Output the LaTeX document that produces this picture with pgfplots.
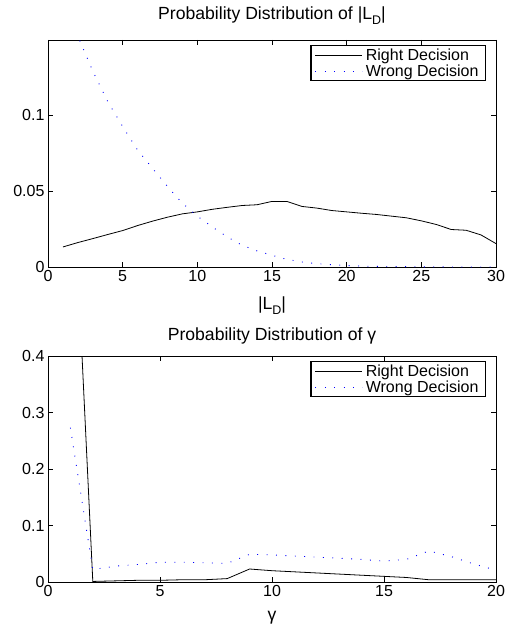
\documentclass[border=0pt]{standalone}
\usepackage{pgfplots}
\pgfplotsset{compat=1.18}
\usepackage{fontspec}
\setmainfont{Liberation Sans}

\pgfplotsset{
  mlab/.style={
    scale only axis,
    width=448pt,
    axis line style={line width=0.8pt},
    tick align=inside,
    major tick length=5pt,
    every tick/.style={black, line width=0.6pt},
    tick label style={font=\fontsize{16}{19}\selectfont},
    scaled ticks=false,
    title style={font=\fontsize{17.6}{20}\selectfont, at={(0.5,1)}, anchor=base},
    xlabel style={font=\fontsize{17.6}{20}\selectfont, at={(0.5,0)}, anchor=base},
    legend style={at={(0.978,0.978)}, anchor=north east, draw=black,
      line width=1.3pt, inner xsep=4pt, inner ysep=1.5pt,
      nodes={inner xsep=3pt, inner ysep=1.5pt, font=\fontsize{16}{19}\selectfont}},
    legend cell align=left,
    legend image code/.code={\draw[#1] (0pt,0pt) -- (47pt,0pt);},
  },
  right/.style={black, line width=0.8pt},
  wrong/.style={blue, line width=0.9pt, dash pattern=on 0.9pt off 8.5pt},
}
\newcommand{\LD}{|L\raisebox{-5pt}{\fontsize{12.5}{13}\selectfont D}|}

\begin{document}
\begin{tikzpicture}
\begin{axis}[mlab,
  at={(48pt,-40pt)}, anchor=north west,
  height=227pt,
  xmin=0, xmax=30, ymin=0, ymax=0.1495,
  xtick={0,5,10,15,20,25,30}, xticklabels={0,5,10,15,20,25,30},
  ytick={0,0.05,0.1}, yticklabels={0,0.05,0.1},
  title={Probability Distribution of \LD},
  title style={yshift=14pt},
  xlabel={\LD},
  xlabel style={yshift=-42pt},
]
\addplot[right] coordinates {
(1,0.0132) (2,0.0161) (3,0.0187) (4,0.0214) (5,0.0240) (6,0.0273)
(7,0.0302) (8,0.0328) (9,0.0350) (10,0.0363) (11,0.0380) (12,0.0393)
(13,0.0405) (14,0.0410) (15,0.0432) (16,0.0432) (17,0.0399) (18,0.0388)
(19,0.0372) (20,0.0363) (21,0.0354) (22,0.0346) (23,0.0335) (24,0.0324)
(25,0.0304) (26,0.0280) (27,0.0247) (28,0.0242) (29,0.0211) (30,0.0154)
};
\addplot[wrong] coordinates {
(1,0.178) (2,0.152) (3,0.129) (4,0.109) (5,0.0925) (6,0.077)
(7,0.065) (8,0.053) (9,0.042) (10,0.0335) (11,0.0264) (12,0.0198)
(13,0.0143) (14,0.0106) (15,0.0077) (16,0.0050) (17,0.0033) (18,0.0022)
(19,0.0015) (20,0.0010) (21,0.0006) (22,0.0004) (23,0.0003) (24,0.0002)
(25,0.0001) (26,0.0001) (27,0) (28,0) (29,0) (30,0)
};
\legend{Right Decision, Wrong Decision}
\end{axis}

\begin{axis}[mlab,
  at={(48pt,-356pt)}, anchor=north west,
  height=226pt,
  xmin=0, xmax=20, ymin=0, ymax=0.4,
  xtick={0,5,10,15,20}, xticklabels={0,5,10,15,20},
  ytick={0,0.1,0.2,0.3,0.4}, yticklabels={0,0.1,0.2,0.3,0.4},
  title={Probability Distribution of γ},
  title style={yshift=10pt},
  xlabel={γ},
  xlabel style={yshift=-38pt},
]
\addplot[right] coordinates {
(1,0.83) (2,0.001) (3,0.002) (4,0.003) (5,0.003) (6,0.004) (7,0.004)
(8,0.006) (9,0.023) (10,0.020) (11,0.018) (12,0.016) (13,0.014)
(14,0.012) (15,0.010) (16,0.008) (17,0.004) (18,0.004) (19,0.004) (20,0.004)
};
\addplot[wrong] coordinates {
(1,0.273) (2,0.022) (3,0.028) (4,0.031) (5,0.035) (6,0.035) (7,0.034)
(8,0.033) (9,0.049) (10,0.048) (11,0.046) (12,0.044) (13,0.042)
(14,0.040) (15,0.037) (16,0.040) (17,0.055) (18,0.045) (19,0.032) (20,0.021)
};
\legend{Right Decision, Wrong Decision}
\end{axis}

\pgfresetboundingbox
\path (0pt,0pt) rectangle (510pt,-631pt);
\end{tikzpicture}
\end{document}
